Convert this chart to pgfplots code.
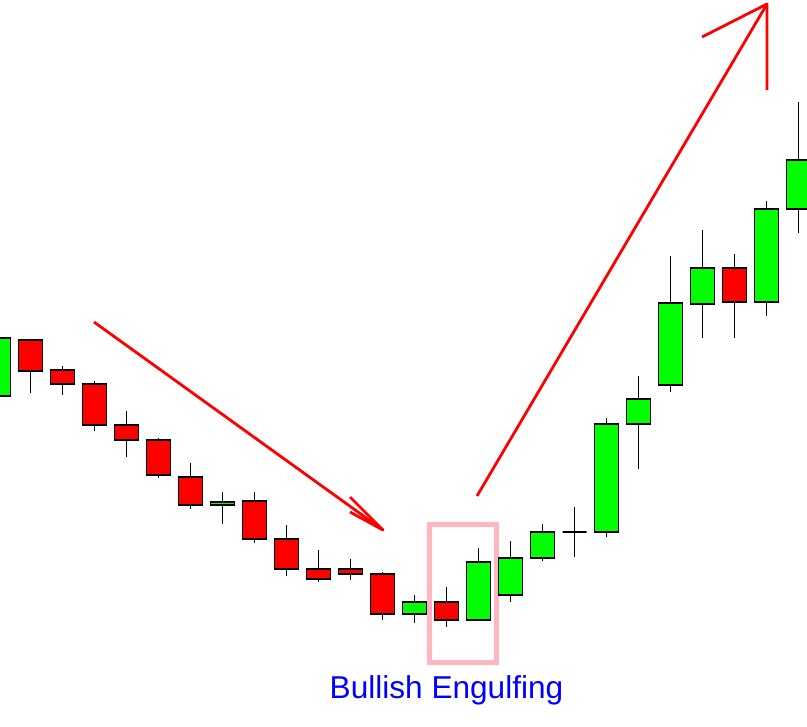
\documentclass[border=0pt]{standalone}
\usepackage{pgfplots}
\pgfplotsset{compat=1.18}
\usepackage{fontspec}
\setmainfont{Liberation Sans}
\definecolor{cgreen}{RGB}{0,255,0}
\definecolor{cred}{RGB}{255,0,0}
\definecolor{cpink}{RGB}{255,182,193}
\definecolor{cblue}{RGB}{0,0,255}
% \candle{center}{left}{right}{bodytop}{bodybottom}{high}{low}{fill}
\newcommand\candle[8]{%
  \addplot[black, line width=0.8pt] coordinates {(#1,#6) (#1,#7)};
  \addplot[draw=black, line width=1pt, fill=#8] coordinates {(#2,#4) (#3,#4) (#3,#5) (#2,#5)} -- cycle;
}
\begin{document}
\begin{tikzpicture}
\begin{axis}[
  scale only axis, width=605.25pt, height=544.5pt,
  xmin=0, xmax=807, ymin=0, ymax=726, y dir=reverse,
  hide axis, clip=true,
  every axis plot/.append style={mark=none},
]
% highlight rectangle
\addplot[cpink, line width=3.75pt] coordinates {(429.5,524.5) (496,524.5) (496,662.5) (429.5,662.5)} -- cycle;
% candles
\candle{-1.5}{-13.5}{10.5}{338}{396}{338}{396}{cgreen}
\candle{30.5}{18.5}{42.5}{340}{371}{339}{393}{cred}
\candle{62.5}{50.5}{74.5}{370}{384}{366}{395}{cred}
\candle{94.5}{82.5}{106.5}{384}{425}{381}{431}{cred}
\candle{126.5}{114.5}{138.5}{425}{440}{411}{457}{cred}
\candle{158.5}{146.5}{170.5}{440}{475}{438}{478}{cred}
\candle{190.5}{178.5}{202.5}{477}{505}{463}{509}{cred}
\candle{222.5}{210.5}{234.5}{502}{505}{492}{524}{cgreen}
\candle{254.5}{242.5}{266.5}{501}{539}{492}{543}{cred}
\candle{286.5}{274.5}{298.5}{539}{569}{525}{576}{cred}
\candle{318.5}{306.5}{330.5}{569}{579}{550}{582}{cred}
\candle{350.5}{338.5}{362.5}{569}{574}{559}{580}{cred}
\candle{382.5}{370.5}{394.5}{574}{614}{572}{620}{cred}
\candle{414.5}{402.5}{426.5}{602}{614}{595}{623}{cgreen}
\candle{446.5}{434.5}{458.5}{602}{620}{587}{627}{cred}
\candle{478.5}{466.5}{490.5}{562}{620}{548}{620}{cgreen}
\candle{510.5}{498.5}{522.5}{558}{595}{541}{602}{cgreen}
\candle{542.5}{530.5}{554.5}{532}{558}{524}{561}{cgreen}
\candle{574.5}{562.5}{586.5}{532}{532}{507}{557}{cgreen}
\candle{606.5}{594.5}{618.5}{424}{532}{418}{537}{cgreen}
\candle{638.5}{626.5}{650.5}{399}{424}{376}{469}{cgreen}
\candle{670.5}{658.5}{682.5}{303}{385}{256}{392}{cgreen}
\candle{702.5}{690.5}{714.5}{268}{304}{230}{338}{cgreen}
\candle{734.5}{722.5}{746.5}{268}{302}{254}{338}{cred}
\candle{766.5}{754.5}{778.5}{209}{302}{201}{316}{cgreen}
\candle{798.5}{786.5}{810.5}{160}{209}{102}{233}{cgreen}
% arrows
\addplot[cred, line width=2.1pt] coordinates {(94,322) (383,530)};
\addplot[cred, line width=2.1pt, line join=round] coordinates {(350,497) (383,530) (350,512)};
\addplot[cred, line width=2.1pt] coordinates {(477,496) (767,4)};
\addplot[cred, line width=2.1pt, line join=round] coordinates {(702,37) (767,4) (767,90)};
\node[text=cblue, anchor=base, font=\fontsize{23.7pt}{28pt}\selectfont, inner sep=0pt] at (axis cs:446.5,698) {Bullish Engulfing};
\end{axis}
\path (current axis.south west) rectangle (current axis.north east);
\end{tikzpicture}
\end{document}
